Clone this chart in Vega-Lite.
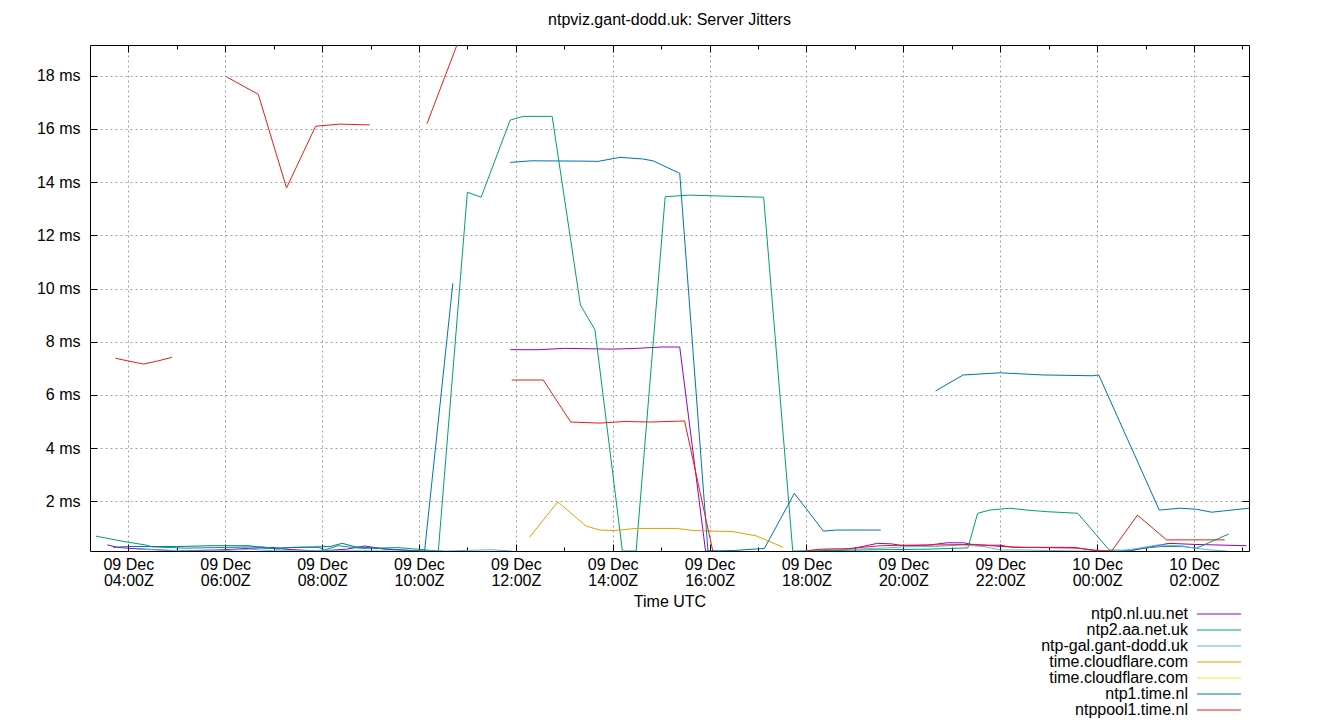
{
  "$schema": "https://vega.github.io/schema/vega-lite/v6.json",
  "width": 1159,
  "height": 506,
  "autosize": {"type": "none"},
  "padding": {"left": 90, "top": 45, "right": 91, "bottom": 169},
  "background": "white",
  "config": {"view": {"stroke": "black", "strokeWidth": 1}},
  "title": {"text": "ntpviz.gant-dodd.uk: Server Jitters", "fontSize": 16, "font": "Liberation Sans", "fontWeight": "normal", "color": "black", "offset": -21, "anchor": "middle"},
  "data": {"values": [
    {"server": "ntp0.nl.uu.net", "seg": 1, "time": "2023-12-09T03:34:00Z", "ms": 0.36},
    {"server": "ntp0.nl.uu.net", "seg": 1, "time": "2023-12-09T03:47:00Z", "ms": 0.27},
    {"server": "ntp0.nl.uu.net", "seg": 1, "time": "2023-12-09T04:02:00Z", "ms": 0.23},
    {"server": "ntp0.nl.uu.net", "seg": 1, "time": "2023-12-09T04:24:00Z", "ms": 0.2},
    {"server": "ntp0.nl.uu.net", "seg": 1, "time": "2023-12-09T04:58:00Z", "ms": 0.14},
    {"server": "ntp0.nl.uu.net", "seg": 1, "time": "2023-12-09T05:51:00Z", "ms": 0.17},
    {"server": "ntp0.nl.uu.net", "seg": 1, "time": "2023-12-09T06:30:00Z", "ms": 0.23},
    {"server": "ntp0.nl.uu.net", "seg": 1, "time": "2023-12-09T06:58:00Z", "ms": 0.27},
    {"server": "ntp0.nl.uu.net", "seg": 1, "time": "2023-12-09T07:14:00Z", "ms": 0.2},
    {"server": "ntp0.nl.uu.net", "seg": 1, "time": "2023-12-09T07:55:00Z", "ms": 0.13},
    {"server": "ntp0.nl.uu.net", "seg": 1, "time": "2023-12-09T08:30:00Z", "ms": 0.2},
    {"server": "ntp0.nl.uu.net", "seg": 1, "time": "2023-12-09T08:53:00Z", "ms": 0.32},
    {"server": "ntp0.nl.uu.net", "seg": 1, "time": "2023-12-09T09:18:00Z", "ms": 0.2},
    {"server": "ntp0.nl.uu.net", "seg": 1, "time": "2023-12-09T10:04:00Z", "ms": 0.13},
    {"server": "ntp0.nl.uu.net", "seg": 1, "time": "2023-12-09T10:30:00Z", "ms": 0.13},
    {"server": "ntp0.nl.uu.net", "seg": 2, "time": "2023-12-09T11:53:00Z", "ms": 7.7},
    {"server": "ntp0.nl.uu.net", "seg": 2, "time": "2023-12-09T12:30:00Z", "ms": 7.7},
    {"server": "ntp0.nl.uu.net", "seg": 2, "time": "2023-12-09T13:00:00Z", "ms": 7.75},
    {"server": "ntp0.nl.uu.net", "seg": 2, "time": "2023-12-09T14:00:00Z", "ms": 7.72},
    {"server": "ntp0.nl.uu.net", "seg": 2, "time": "2023-12-09T14:30:00Z", "ms": 7.75},
    {"server": "ntp0.nl.uu.net", "seg": 2, "time": "2023-12-09T15:00:00Z", "ms": 7.8},
    {"server": "ntp0.nl.uu.net", "seg": 2, "time": "2023-12-09T15:23:00Z", "ms": 7.8},
    {"server": "ntp0.nl.uu.net", "seg": 2, "time": "2023-12-09T15:55:00Z", "ms": 0.13},
    {"server": "ntp0.nl.uu.net", "seg": 2, "time": "2023-12-09T16:10:00Z", "ms": 0.13},
    {"server": "ntp0.nl.uu.net", "seg": 3, "time": "2023-12-09T18:10:00Z", "ms": 0.13},
    {"server": "ntp0.nl.uu.net", "seg": 3, "time": "2023-12-09T18:40:00Z", "ms": 0.15},
    {"server": "ntp0.nl.uu.net", "seg": 3, "time": "2023-12-09T18:58:00Z", "ms": 0.23},
    {"server": "ntp0.nl.uu.net", "seg": 3, "time": "2023-12-09T19:28:00Z", "ms": 0.42},
    {"server": "ntp0.nl.uu.net", "seg": 3, "time": "2023-12-09T19:45:00Z", "ms": 0.4},
    {"server": "ntp0.nl.uu.net", "seg": 3, "time": "2023-12-09T20:00:00Z", "ms": 0.33},
    {"server": "ntp0.nl.uu.net", "seg": 3, "time": "2023-12-09T20:30:00Z", "ms": 0.35},
    {"server": "ntp0.nl.uu.net", "seg": 3, "time": "2023-12-09T20:54:00Z", "ms": 0.44},
    {"server": "ntp0.nl.uu.net", "seg": 3, "time": "2023-12-09T21:15:00Z", "ms": 0.44},
    {"server": "ntp0.nl.uu.net", "seg": 3, "time": "2023-12-09T21:30:00Z", "ms": 0.35},
    {"server": "ntp0.nl.uu.net", "seg": 3, "time": "2023-12-09T22:00:00Z", "ms": 0.35},
    {"server": "ntp0.nl.uu.net", "seg": 3, "time": "2023-12-09T22:15:00Z", "ms": 0.27},
    {"server": "ntp0.nl.uu.net", "seg": 3, "time": "2023-12-09T23:30:00Z", "ms": 0.27},
    {"server": "ntp0.nl.uu.net", "seg": 3, "time": "2023-12-09T23:55:00Z", "ms": 0.17},
    {"server": "ntp0.nl.uu.net", "seg": 3, "time": "2023-12-10T00:15:00Z", "ms": 0.13},
    {"server": "ntp0.nl.uu.net", "seg": 3, "time": "2023-12-10T00:40:00Z", "ms": 0.13},
    {"server": "ntp0.nl.uu.net", "seg": 3, "time": "2023-12-10T01:29:00Z", "ms": 0.42},
    {"server": "ntp0.nl.uu.net", "seg": 3, "time": "2023-12-10T02:00:00Z", "ms": 0.38},
    {"server": "ntp0.nl.uu.net", "seg": 3, "time": "2023-12-10T03:05:00Z", "ms": 0.33},

    {"server": "ntp2.aa.net.uk", "seg": 1, "time": "2023-12-09T03:20:00Z", "ms": 0.69},
    {"server": "ntp2.aa.net.uk", "seg": 1, "time": "2023-12-09T03:56:00Z", "ms": 0.48},
    {"server": "ntp2.aa.net.uk", "seg": 1, "time": "2023-12-09T04:21:00Z", "ms": 0.36},
    {"server": "ntp2.aa.net.uk", "seg": 1, "time": "2023-12-09T04:29:00Z", "ms": 0.29},
    {"server": "ntp2.aa.net.uk", "seg": 1, "time": "2023-12-09T05:10:00Z", "ms": 0.24},
    {"server": "ntp2.aa.net.uk", "seg": 1, "time": "2023-12-09T05:51:00Z", "ms": 0.26},
    {"server": "ntp2.aa.net.uk", "seg": 1, "time": "2023-12-09T06:46:00Z", "ms": 0.29},
    {"server": "ntp2.aa.net.uk", "seg": 1, "time": "2023-12-09T07:05:00Z", "ms": 0.2},
    {"server": "ntp2.aa.net.uk", "seg": 1, "time": "2023-12-09T07:23:00Z", "ms": 0.27},
    {"server": "ntp2.aa.net.uk", "seg": 1, "time": "2023-12-09T07:55:00Z", "ms": 0.27},
    {"server": "ntp2.aa.net.uk", "seg": 1, "time": "2023-12-09T08:03:00Z", "ms": 0.17},
    {"server": "ntp2.aa.net.uk", "seg": 1, "time": "2023-12-09T08:20:00Z", "ms": 0.33},
    {"server": "ntp2.aa.net.uk", "seg": 1, "time": "2023-12-09T08:49:00Z", "ms": 0.23},
    {"server": "ntp2.aa.net.uk", "seg": 1, "time": "2023-12-09T09:34:00Z", "ms": 0.26},
    {"server": "ntp2.aa.net.uk", "seg": 1, "time": "2023-12-09T09:58:00Z", "ms": 0.2},
    {"server": "ntp2.aa.net.uk", "seg": 1, "time": "2023-12-09T10:24:00Z", "ms": 0.13},
    {"server": "ntp2.aa.net.uk", "seg": 1, "time": "2023-12-09T11:00:00Z", "ms": 13.62},
    {"server": "ntp2.aa.net.uk", "seg": 1, "time": "2023-12-09T11:17:00Z", "ms": 13.43},
    {"server": "ntp2.aa.net.uk", "seg": 1, "time": "2023-12-09T11:53:00Z", "ms": 16.33},
    {"server": "ntp2.aa.net.uk", "seg": 1, "time": "2023-12-09T12:09:00Z", "ms": 16.47},
    {"server": "ntp2.aa.net.uk", "seg": 1, "time": "2023-12-09T12:45:00Z", "ms": 16.47},
    {"server": "ntp2.aa.net.uk", "seg": 1, "time": "2023-12-09T13:20:00Z", "ms": 9.38},
    {"server": "ntp2.aa.net.uk", "seg": 1, "time": "2023-12-09T13:38:00Z", "ms": 8.45},
    {"server": "ntp2.aa.net.uk", "seg": 1, "time": "2023-12-09T14:12:00Z", "ms": 0.13},
    {"server": "ntp2.aa.net.uk", "seg": 1, "time": "2023-12-09T14:29:00Z", "ms": 0.13},
    {"server": "ntp2.aa.net.uk", "seg": 1, "time": "2023-12-09T15:05:00Z", "ms": 13.45},
    {"server": "ntp2.aa.net.uk", "seg": 1, "time": "2023-12-09T15:35:00Z", "ms": 13.51},
    {"server": "ntp2.aa.net.uk", "seg": 1, "time": "2023-12-09T17:07:00Z", "ms": 13.43},
    {"server": "ntp2.aa.net.uk", "seg": 1, "time": "2023-12-09T17:43:00Z", "ms": 0.13},
    {"server": "ntp2.aa.net.uk", "seg": 1, "time": "2023-12-09T18:30:00Z", "ms": 0.15},
    {"server": "ntp2.aa.net.uk", "seg": 1, "time": "2023-12-09T19:30:00Z", "ms": 0.18},
    {"server": "ntp2.aa.net.uk", "seg": 1, "time": "2023-12-09T20:30:00Z", "ms": 0.2},
    {"server": "ntp2.aa.net.uk", "seg": 1, "time": "2023-12-09T21:20:00Z", "ms": 0.25},
    {"server": "ntp2.aa.net.uk", "seg": 1, "time": "2023-12-09T21:32:00Z", "ms": 1.55},
    {"server": "ntp2.aa.net.uk", "seg": 1, "time": "2023-12-09T21:47:00Z", "ms": 1.67},
    {"server": "ntp2.aa.net.uk", "seg": 1, "time": "2023-12-09T22:12:00Z", "ms": 1.74},
    {"server": "ntp2.aa.net.uk", "seg": 1, "time": "2023-12-09T22:33:00Z", "ms": 1.67},
    {"server": "ntp2.aa.net.uk", "seg": 1, "time": "2023-12-09T22:58:00Z", "ms": 1.61},
    {"server": "ntp2.aa.net.uk", "seg": 1, "time": "2023-12-09T23:36:00Z", "ms": 1.55},
    {"server": "ntp2.aa.net.uk", "seg": 1, "time": "2023-12-10T00:15:00Z", "ms": 0.17},
    {"server": "ntp2.aa.net.uk", "seg": 1, "time": "2023-12-10T00:40:00Z", "ms": 0.15},
    {"server": "ntp2.aa.net.uk", "seg": 1, "time": "2023-12-10T00:55:00Z", "ms": 0.23},
    {"server": "ntp2.aa.net.uk", "seg": 1, "time": "2023-12-10T01:20:00Z", "ms": 0.3},
    {"server": "ntp2.aa.net.uk", "seg": 1, "time": "2023-12-10T01:45:00Z", "ms": 0.3},
    {"server": "ntp2.aa.net.uk", "seg": 1, "time": "2023-12-10T02:03:00Z", "ms": 0.24},
    {"server": "ntp2.aa.net.uk", "seg": 1, "time": "2023-12-10T02:43:00Z", "ms": 0.77},

    {"server": "ntp-gal.gant-dodd.uk", "seg": 1, "time": "2023-12-09T04:10:00Z", "ms": 0.2},
    {"server": "ntp-gal.gant-dodd.uk", "seg": 1, "time": "2023-12-09T05:00:00Z", "ms": 0.15},
    {"server": "ntp-gal.gant-dodd.uk", "seg": 1, "time": "2023-12-09T05:30:00Z", "ms": 0.13},
    {"server": "ntp-gal.gant-dodd.uk", "seg": 1, "time": "2023-12-09T06:00:00Z", "ms": 0.15},
    {"server": "ntp-gal.gant-dodd.uk", "seg": 1, "time": "2023-12-09T06:30:00Z", "ms": 0.2},
    {"server": "ntp-gal.gant-dodd.uk", "seg": 1, "time": "2023-12-09T07:00:00Z", "ms": 0.14},
    {"server": "ntp-gal.gant-dodd.uk", "seg": 1, "time": "2023-12-09T08:00:00Z", "ms": 0.14},
    {"server": "ntp-gal.gant-dodd.uk", "seg": 1, "time": "2023-12-09T08:50:00Z", "ms": 0.14},
    {"server": "ntp-gal.gant-dodd.uk", "seg": 1, "time": "2023-12-09T09:30:00Z", "ms": 0.13},
    {"server": "ntp-gal.gant-dodd.uk", "seg": 1, "time": "2023-12-09T10:30:00Z", "ms": 0.13},
    {"server": "ntp-gal.gant-dodd.uk", "seg": 1, "time": "2023-12-09T11:30:00Z", "ms": 0.18},
    {"server": "ntp-gal.gant-dodd.uk", "seg": 1, "time": "2023-12-09T11:55:00Z", "ms": 0.13},
    {"server": "ntp-gal.gant-dodd.uk", "seg": 2, "time": "2023-12-09T17:50:00Z", "ms": 0.13},
    {"server": "ntp-gal.gant-dodd.uk", "seg": 2, "time": "2023-12-09T18:30:00Z", "ms": 0.2},
    {"server": "ntp-gal.gant-dodd.uk", "seg": 2, "time": "2023-12-09T19:00:00Z", "ms": 0.2},
    {"server": "ntp-gal.gant-dodd.uk", "seg": 2, "time": "2023-12-09T19:40:00Z", "ms": 0.25},
    {"server": "ntp-gal.gant-dodd.uk", "seg": 2, "time": "2023-12-09T20:00:00Z", "ms": 0.29},
    {"server": "ntp-gal.gant-dodd.uk", "seg": 2, "time": "2023-12-09T20:40:00Z", "ms": 0.3},
    {"server": "ntp-gal.gant-dodd.uk", "seg": 2, "time": "2023-12-09T21:12:00Z", "ms": 0.36},
    {"server": "ntp-gal.gant-dodd.uk", "seg": 2, "time": "2023-12-09T21:40:00Z", "ms": 0.3},
    {"server": "ntp-gal.gant-dodd.uk", "seg": 2, "time": "2023-12-09T22:00:00Z", "ms": 0.17},
    {"server": "ntp-gal.gant-dodd.uk", "seg": 2, "time": "2023-12-09T22:30:00Z", "ms": 0.17},
    {"server": "ntp-gal.gant-dodd.uk", "seg": 2, "time": "2023-12-09T23:00:00Z", "ms": 0.15},
    {"server": "ntp-gal.gant-dodd.uk", "seg": 2, "time": "2023-12-09T23:40:00Z", "ms": 0.13},
    {"server": "ntp-gal.gant-dodd.uk", "seg": 2, "time": "2023-12-10T00:30:00Z", "ms": 0.15},
    {"server": "ntp-gal.gant-dodd.uk", "seg": 2, "time": "2023-12-10T00:50:00Z", "ms": 0.23},
    {"server": "ntp-gal.gant-dodd.uk", "seg": 2, "time": "2023-12-10T01:15:00Z", "ms": 0.36},
    {"server": "ntp-gal.gant-dodd.uk", "seg": 2, "time": "2023-12-10T01:47:00Z", "ms": 0.32},
    {"server": "ntp-gal.gant-dodd.uk", "seg": 2, "time": "2023-12-10T02:00:00Z", "ms": 0.24},
    {"server": "ntp-gal.gant-dodd.uk", "seg": 2, "time": "2023-12-10T02:21:00Z", "ms": 0.17},
    {"server": "ntp-gal.gant-dodd.uk", "seg": 2, "time": "2023-12-10T02:40:00Z", "ms": 0.13},

    {"server": "time.cloudflare.com#1", "seg": 1, "time": "2023-12-09T12:17:00Z", "ms": 0.65},
    {"server": "time.cloudflare.com#1", "seg": 1, "time": "2023-12-09T12:52:00Z", "ms": 1.98},
    {"server": "time.cloudflare.com#1", "seg": 1, "time": "2023-12-09T13:27:00Z", "ms": 1.07},
    {"server": "time.cloudflare.com#1", "seg": 1, "time": "2023-12-09T13:44:00Z", "ms": 0.92},
    {"server": "time.cloudflare.com#1", "seg": 1, "time": "2023-12-09T14:01:00Z", "ms": 0.9},
    {"server": "time.cloudflare.com#1", "seg": 1, "time": "2023-12-09T14:29:00Z", "ms": 0.98},
    {"server": "time.cloudflare.com#1", "seg": 1, "time": "2023-12-09T15:19:00Z", "ms": 0.98},
    {"server": "time.cloudflare.com#1", "seg": 1, "time": "2023-12-09T15:40:00Z", "ms": 0.9},
    {"server": "time.cloudflare.com#1", "seg": 1, "time": "2023-12-09T16:29:00Z", "ms": 0.86},
    {"server": "time.cloudflare.com#1", "seg": 1, "time": "2023-12-09T16:58:00Z", "ms": 0.7},
    {"server": "time.cloudflare.com#1", "seg": 1, "time": "2023-12-09T17:31:00Z", "ms": 0.27},

    {"server": "time.cloudflare.com#2", "seg": 1, "time": "2023-12-09T05:46:00Z", "ms": 0.43},

    {"server": "ntp1.time.nl", "seg": 1, "time": "2023-12-09T03:41:00Z", "ms": 0.27},
    {"server": "ntp1.time.nl", "seg": 1, "time": "2023-12-09T04:00:00Z", "ms": 0.3},
    {"server": "ntp1.time.nl", "seg": 1, "time": "2023-12-09T05:00:00Z", "ms": 0.3},
    {"server": "ntp1.time.nl", "seg": 1, "time": "2023-12-09T05:44:00Z", "ms": 0.33},
    {"server": "ntp1.time.nl", "seg": 1, "time": "2023-12-09T06:30:00Z", "ms": 0.33},
    {"server": "ntp1.time.nl", "seg": 1, "time": "2023-12-09T06:50:00Z", "ms": 0.23},
    {"server": "ntp1.time.nl", "seg": 1, "time": "2023-12-09T07:30:00Z", "ms": 0.27},
    {"server": "ntp1.time.nl", "seg": 1, "time": "2023-12-09T08:10:00Z", "ms": 0.3},
    {"server": "ntp1.time.nl", "seg": 1, "time": "2023-12-09T08:25:00Z", "ms": 0.42},
    {"server": "ntp1.time.nl", "seg": 1, "time": "2023-12-09T08:41:00Z", "ms": 0.29},
    {"server": "ntp1.time.nl", "seg": 1, "time": "2023-12-09T09:10:00Z", "ms": 0.23},
    {"server": "ntp1.time.nl", "seg": 1, "time": "2023-12-09T10:00:00Z", "ms": 0.13},
    {"server": "ntp1.time.nl", "seg": 1, "time": "2023-12-09T10:07:00Z", "ms": 0.13},
    {"server": "ntp1.time.nl", "seg": 1, "time": "2023-12-09T10:42:00Z", "ms": 10.2},
    {"server": "ntp1.time.nl", "seg": 2, "time": "2023-12-09T11:53:00Z", "ms": 14.74},
    {"server": "ntp1.time.nl", "seg": 2, "time": "2023-12-09T12:19:00Z", "ms": 14.8},
    {"server": "ntp1.time.nl", "seg": 2, "time": "2023-12-09T13:19:00Z", "ms": 14.79},
    {"server": "ntp1.time.nl", "seg": 2, "time": "2023-12-09T13:42:00Z", "ms": 14.78},
    {"server": "ntp1.time.nl", "seg": 2, "time": "2023-12-09T14:09:00Z", "ms": 14.93},
    {"server": "ntp1.time.nl", "seg": 2, "time": "2023-12-09T14:37:00Z", "ms": 14.87},
    {"server": "ntp1.time.nl", "seg": 2, "time": "2023-12-09T14:50:00Z", "ms": 14.8},
    {"server": "ntp1.time.nl", "seg": 2, "time": "2023-12-09T15:23:00Z", "ms": 14.33},
    {"server": "ntp1.time.nl", "seg": 2, "time": "2023-12-09T15:58:00Z", "ms": 0.13},
    {"server": "ntp1.time.nl", "seg": 2, "time": "2023-12-09T16:30:00Z", "ms": 0.15},
    {"server": "ntp1.time.nl", "seg": 2, "time": "2023-12-09T17:08:00Z", "ms": 0.23},
    {"server": "ntp1.time.nl", "seg": 2, "time": "2023-12-09T17:45:00Z", "ms": 2.3},
    {"server": "ntp1.time.nl", "seg": 2, "time": "2023-12-09T18:21:00Z", "ms": 0.88},
    {"server": "ntp1.time.nl", "seg": 2, "time": "2023-12-09T18:37:00Z", "ms": 0.92},
    {"server": "ntp1.time.nl", "seg": 2, "time": "2023-12-09T19:32:00Z", "ms": 0.92},
    {"server": "ntp1.time.nl", "seg": 3, "time": "2023-12-09T20:40:00Z", "ms": 6.15},
    {"server": "ntp1.time.nl", "seg": 3, "time": "2023-12-09T21:14:00Z", "ms": 6.75},
    {"server": "ntp1.time.nl", "seg": 3, "time": "2023-12-09T22:00:00Z", "ms": 6.83},
    {"server": "ntp1.time.nl", "seg": 3, "time": "2023-12-09T22:53:00Z", "ms": 6.75},
    {"server": "ntp1.time.nl", "seg": 3, "time": "2023-12-09T23:55:00Z", "ms": 6.72},
    {"server": "ntp1.time.nl", "seg": 3, "time": "2023-12-10T00:02:00Z", "ms": 6.75},
    {"server": "ntp1.time.nl", "seg": 3, "time": "2023-12-10T01:17:00Z", "ms": 1.67},
    {"server": "ntp1.time.nl", "seg": 3, "time": "2023-12-10T01:43:00Z", "ms": 1.74},
    {"server": "ntp1.time.nl", "seg": 3, "time": "2023-12-10T02:03:00Z", "ms": 1.7},
    {"server": "ntp1.time.nl", "seg": 3, "time": "2023-12-10T02:22:00Z", "ms": 1.59},
    {"server": "ntp1.time.nl", "seg": 3, "time": "2023-12-10T02:40:00Z", "ms": 1.65},
    {"server": "ntp1.time.nl", "seg": 3, "time": "2023-12-10T03:08:00Z", "ms": 1.74},

    {"server": "ntppool1.time.nl", "seg": 1, "time": "2023-12-09T03:44:00Z", "ms": 7.38},
    {"server": "ntppool1.time.nl", "seg": 1, "time": "2023-12-09T04:02:00Z", "ms": 7.26},
    {"server": "ntppool1.time.nl", "seg": 1, "time": "2023-12-09T04:19:00Z", "ms": 7.16},
    {"server": "ntppool1.time.nl", "seg": 1, "time": "2023-12-09T04:37:00Z", "ms": 7.28},
    {"server": "ntppool1.time.nl", "seg": 1, "time": "2023-12-09T04:54:00Z", "ms": 7.41},
    {"server": "ntppool1.time.nl", "seg": 2, "time": "2023-12-09T06:02:00Z", "ms": 17.95},
    {"server": "ntppool1.time.nl", "seg": 2, "time": "2023-12-09T06:41:00Z", "ms": 17.3},
    {"server": "ntppool1.time.nl", "seg": 2, "time": "2023-12-09T07:16:00Z", "ms": 13.78},
    {"server": "ntppool1.time.nl", "seg": 2, "time": "2023-12-09T07:52:00Z", "ms": 16.1},
    {"server": "ntppool1.time.nl", "seg": 2, "time": "2023-12-09T08:22:00Z", "ms": 16.18},
    {"server": "ntppool1.time.nl", "seg": 2, "time": "2023-12-09T08:59:00Z", "ms": 16.15},
    {"server": "ntppool1.time.nl", "seg": 3, "time": "2023-12-09T10:10:00Z", "ms": 16.2},
    {"server": "ntppool1.time.nl", "seg": 3, "time": "2023-12-09T11:05:00Z", "ms": 20.58},
    {"server": "ntppool1.time.nl", "seg": 4, "time": "2023-12-09T11:55:00Z", "ms": 6.56},
    {"server": "ntppool1.time.nl", "seg": 4, "time": "2023-12-09T12:34:00Z", "ms": 6.56},
    {"server": "ntppool1.time.nl", "seg": 4, "time": "2023-12-09T13:08:00Z", "ms": 4.98},
    {"server": "ntppool1.time.nl", "seg": 4, "time": "2023-12-09T13:44:00Z", "ms": 4.94},
    {"server": "ntppool1.time.nl", "seg": 4, "time": "2023-12-09T14:15:00Z", "ms": 5.0},
    {"server": "ntppool1.time.nl", "seg": 4, "time": "2023-12-09T14:46:00Z", "ms": 4.98},
    {"server": "ntppool1.time.nl", "seg": 4, "time": "2023-12-09T15:29:00Z", "ms": 5.02},
    {"server": "ntppool1.time.nl", "seg": 4, "time": "2023-12-09T16:04:00Z", "ms": 0.13},
    {"server": "ntppool1.time.nl", "seg": 5, "time": "2023-12-09T17:58:00Z", "ms": 0.13},
    {"server": "ntppool1.time.nl", "seg": 5, "time": "2023-12-09T18:17:00Z", "ms": 0.2},
    {"server": "ntppool1.time.nl", "seg": 5, "time": "2023-12-09T18:50:00Z", "ms": 0.22},
    {"server": "ntppool1.time.nl", "seg": 5, "time": "2023-12-09T19:32:00Z", "ms": 0.33},
    {"server": "ntppool1.time.nl", "seg": 5, "time": "2023-12-09T20:00:00Z", "ms": 0.35},
    {"server": "ntppool1.time.nl", "seg": 5, "time": "2023-12-09T20:40:00Z", "ms": 0.36},
    {"server": "ntppool1.time.nl", "seg": 5, "time": "2023-12-09T21:30:00Z", "ms": 0.38},
    {"server": "ntppool1.time.nl", "seg": 5, "time": "2023-12-09T22:00:00Z", "ms": 0.3},
    {"server": "ntppool1.time.nl", "seg": 5, "time": "2023-12-09T22:30:00Z", "ms": 0.27},
    {"server": "ntppool1.time.nl", "seg": 5, "time": "2023-12-09T23:36:00Z", "ms": 0.24},
    {"server": "ntppool1.time.nl", "seg": 5, "time": "2023-12-10T00:00:00Z", "ms": 0.14},
    {"server": "ntppool1.time.nl", "seg": 5, "time": "2023-12-10T00:18:00Z", "ms": 0.13},
    {"server": "ntppool1.time.nl", "seg": 5, "time": "2023-12-10T00:50:00Z", "ms": 1.48},
    {"server": "ntppool1.time.nl", "seg": 5, "time": "2023-12-10T01:26:00Z", "ms": 0.55},
    {"server": "ntppool1.time.nl", "seg": 5, "time": "2023-12-10T02:38:00Z", "ms": 0.55}
  ]},
  "layer": [
    {
      "mark": {"type": "line", "strokeWidth": 1, "clip": true},
      "encoding": {
        "x": {"field": "time", "type": "temporal",
          "scale": {"type": "utc", "nice": false, "domain": [{"year": 2023, "month": 12, "date": 9, "hours": 3, "minutes": 12, "seconds": 34, "utc": true}, {"year": 2023, "month": 12, "date": 10, "hours": 3, "minutes": 8, "seconds": 7, "utc": true}]},
          "axis": {"orient": "bottom",
            "values": [{"year": 2023, "month": 12, "date": 9, "hours": 4, "utc": true}, {"year": 2023, "month": 12, "date": 9, "hours": 6, "utc": true}, {"year": 2023, "month": 12, "date": 9, "hours": 8, "utc": true}, {"year": 2023, "month": 12, "date": 9, "hours": 10, "utc": true}, {"year": 2023, "month": 12, "date": 9, "hours": 12, "utc": true}, {"year": 2023, "month": 12, "date": 9, "hours": 14, "utc": true}, {"year": 2023, "month": 12, "date": 9, "hours": 16, "utc": true}, {"year": 2023, "month": 12, "date": 9, "hours": 18, "utc": true}, {"year": 2023, "month": 12, "date": 9, "hours": 20, "utc": true}, {"year": 2023, "month": 12, "date": 9, "hours": 22, "utc": true}, {"year": 2023, "month": 12, "date": 10, "hours": 0, "utc": true}, {"year": 2023, "month": 12, "date": 10, "hours": 2, "utc": true}],
            "labelExpr": "[utcFormat(datum.value, '%d %b'), utcFormat(datum.value, '%H:%MZ')]",
            "labelFont": "Liberation Sans", "labelFontSize": 16, "labelColor": "black", "labelLineHeight": 16,
            "labelPadding": 12, "labelFlush": false, "labelOverlap": false,
            "tickSize": -7, "tickColor": "black", "tickWidth": 1,
            "domain": false,
            "grid": true, "gridColor": "#a0a0a0", "gridDash": [2, 3], "gridWidth": 1,
            "title": "Time UTC", "titleFont": "Liberation Sans", "titleFontSize": 16, "titleFontWeight": "normal", "titleColor": "black", "titlePadding": 5}},
        "y": {"field": "ms", "type": "quantitative",
          "scale": {"domain": [0.132, 19.154], "nice": false, "zero": false},
          "axis": {"orient": "left", "values": [2, 4, 6, 8, 10, 12, 14, 16, 18],
            "labelExpr": "datum.value + ' ms'",
            "labelFont": "Liberation Sans", "labelFontSize": 16, "labelColor": "black", "labelPadding": 17,
            "tickSize": -7, "tickColor": "black", "tickWidth": 1,
            "domain": false,
            "grid": true, "gridColor": "#a0a0a0", "gridDash": [2, 3], "gridWidth": 1,
            "title": null}},
        "color": {"field": "server", "type": "nominal",
          "scale": {"domain": ["ntp0.nl.uu.net", "ntp2.aa.net.uk", "ntp-gal.gant-dodd.uk", "time.cloudflare.com#1", "time.cloudflare.com#2", "ntp1.time.nl", "ntppool1.time.nl"],
                    "range": ["#9400d3", "#009e73", "#56b4e9", "#e69f00", "#f0e442", "#0072b2", "#e51e10"]},
          "legend": {"orient": "none", "legendX": 1121, "legendY": 561, "title": null, "padding": 0,
            "symbolType": "M-4,0H4", "symbolSize": 121, "symbolStrokeWidth": 1,
            "rowPadding": 0,
            "labelAlign": "right", "labelOffset": -39,
            "labelFont": "Liberation Sans", "labelFontSize": 16, "labelColor": "black", "labelLimit": 300,
            "labelExpr": "split(datum.label, '#')[0]"}},
        "detail": {"field": "seg", "type": "nominal"}
      }
    },
    {
      "mark": {"type": "line", "strokeOpacity": 0},
      "encoding": {
        "x": {"field": "time", "type": "temporal",
          "axis": {"orient": "top",
            "values": [{"year": 2023, "month": 12, "date": 9, "hours": 4, "utc": true}, {"year": 2023, "month": 12, "date": 9, "hours": 6, "utc": true}, {"year": 2023, "month": 12, "date": 9, "hours": 8, "utc": true}, {"year": 2023, "month": 12, "date": 9, "hours": 10, "utc": true}, {"year": 2023, "month": 12, "date": 9, "hours": 12, "utc": true}, {"year": 2023, "month": 12, "date": 9, "hours": 14, "utc": true}, {"year": 2023, "month": 12, "date": 9, "hours": 16, "utc": true}, {"year": 2023, "month": 12, "date": 9, "hours": 18, "utc": true}, {"year": 2023, "month": 12, "date": 9, "hours": 20, "utc": true}, {"year": 2023, "month": 12, "date": 9, "hours": 22, "utc": true}, {"year": 2023, "month": 12, "date": 10, "hours": 0, "utc": true}, {"year": 2023, "month": 12, "date": 10, "hours": 2, "utc": true}],
            "labels": false, "tickSize": -7, "tickColor": "black", "tickWidth": 1, "domain": false, "grid": false, "title": null}},
        "y": {"field": "ms", "type": "quantitative",
          "axis": {"orient": "right", "values": [2, 4, 6, 8, 10, 12, 14, 16, 18],
            "labels": false, "tickSize": -7, "tickColor": "black", "tickWidth": 1, "domain": false, "grid": false, "title": null}}
      }
    },
    {
      "mark": {"type": "line", "strokeOpacity": 0},
      "encoding": {
        "x": {"field": "time", "type": "temporal",
          "axis": {"orient": "bottom",
            "values": [{"year": 2023, "month": 12, "date": 9, "hours": 5, "utc": true}, {"year": 2023, "month": 12, "date": 9, "hours": 7, "utc": true}, {"year": 2023, "month": 12, "date": 9, "hours": 9, "utc": true}, {"year": 2023, "month": 12, "date": 9, "hours": 11, "utc": true}, {"year": 2023, "month": 12, "date": 9, "hours": 13, "utc": true}, {"year": 2023, "month": 12, "date": 9, "hours": 15, "utc": true}, {"year": 2023, "month": 12, "date": 9, "hours": 17, "utc": true}, {"year": 2023, "month": 12, "date": 9, "hours": 19, "utc": true}, {"year": 2023, "month": 12, "date": 9, "hours": 21, "utc": true}, {"year": 2023, "month": 12, "date": 9, "hours": 23, "utc": true}, {"year": 2023, "month": 12, "date": 10, "hours": 1, "utc": true}, {"year": 2023, "month": 12, "date": 10, "hours": 3, "utc": true}],
            "labels": false, "tickSize": -4, "tickColor": "black", "tickWidth": 1, "domain": false, "grid": false, "title": null}},
        "y": {"field": "ms", "type": "quantitative", "axis": null}
      }
    },
    {
      "mark": {"type": "line", "strokeOpacity": 0},
      "encoding": {
        "x": {"field": "time", "type": "temporal",
          "axis": {"orient": "top",
            "values": [{"year": 2023, "month": 12, "date": 9, "hours": 5, "utc": true}, {"year": 2023, "month": 12, "date": 9, "hours": 7, "utc": true}, {"year": 2023, "month": 12, "date": 9, "hours": 9, "utc": true}, {"year": 2023, "month": 12, "date": 9, "hours": 11, "utc": true}, {"year": 2023, "month": 12, "date": 9, "hours": 13, "utc": true}, {"year": 2023, "month": 12, "date": 9, "hours": 15, "utc": true}, {"year": 2023, "month": 12, "date": 9, "hours": 17, "utc": true}, {"year": 2023, "month": 12, "date": 9, "hours": 19, "utc": true}, {"year": 2023, "month": 12, "date": 9, "hours": 21, "utc": true}, {"year": 2023, "month": 12, "date": 9, "hours": 23, "utc": true}, {"year": 2023, "month": 12, "date": 10, "hours": 1, "utc": true}, {"year": 2023, "month": 12, "date": 10, "hours": 3, "utc": true}],
            "labels": false, "tickSize": -4, "tickColor": "black", "tickWidth": 1, "domain": false, "grid": false, "title": null}},
        "y": {"field": "ms", "type": "quantitative", "axis": null}
      }
    }
  ],
  "resolve": {"axis": {"x": "independent", "y": "independent"}}
}
